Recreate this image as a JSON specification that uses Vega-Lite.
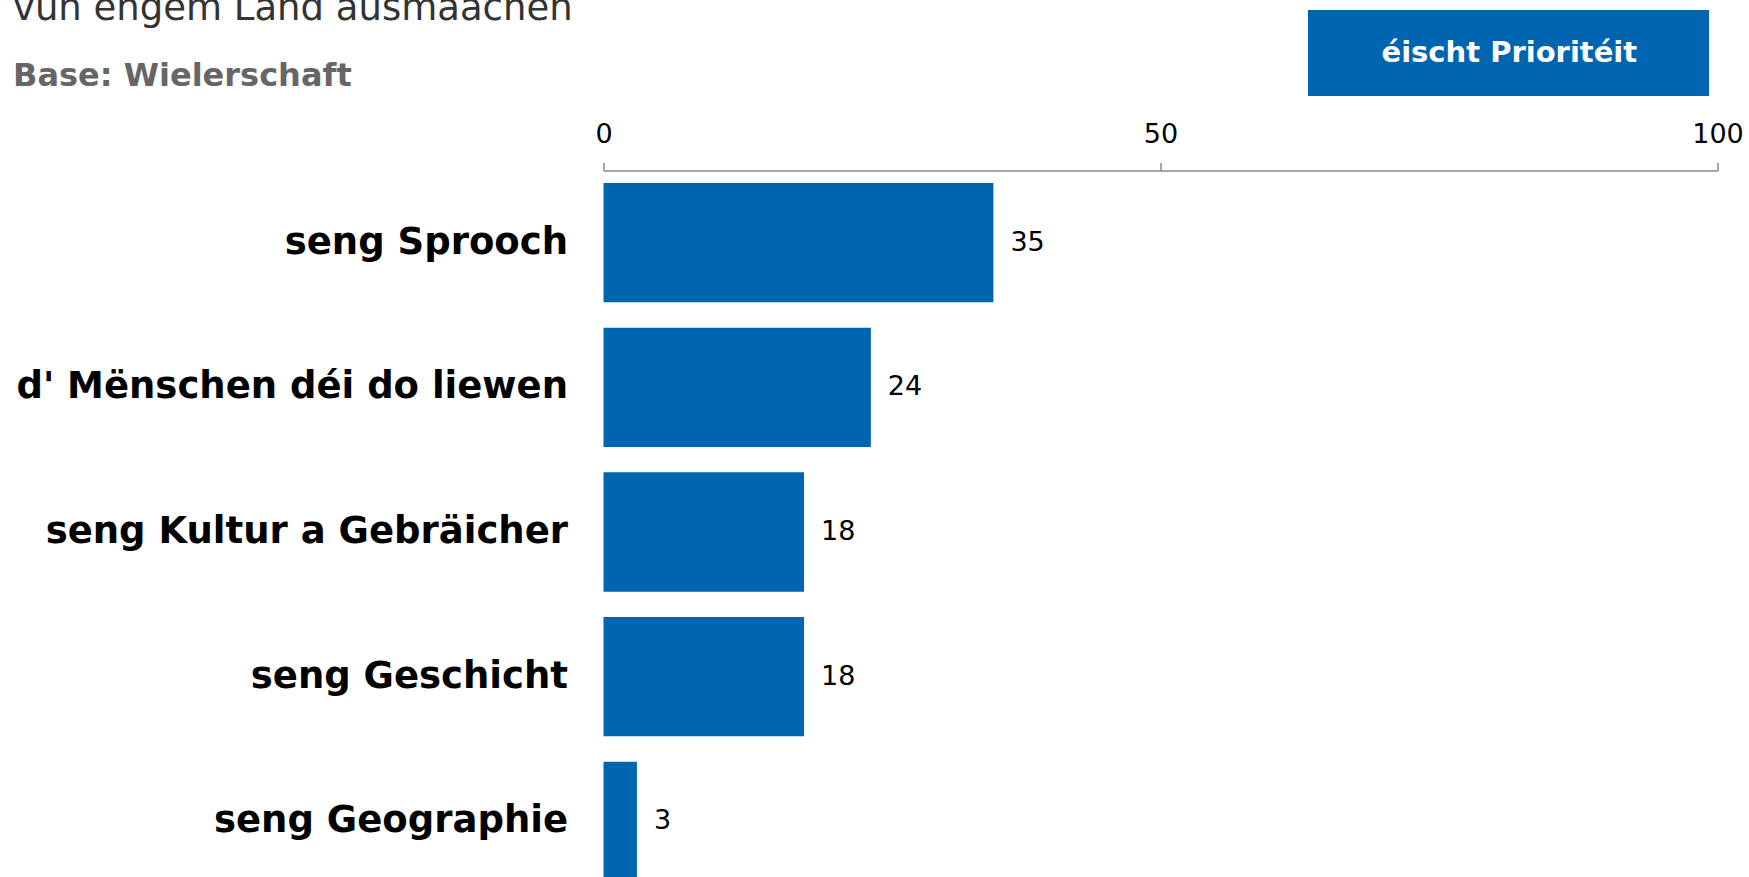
{
  "$schema": "https://vega.github.io/schema/vega-lite/v6.json",
  "width": 1114,
  "height": 723,
  "autosize": {"type": "none"},
  "padding": {"left": 603.5, "top": 170.5, "right": 31.5, "bottom": -16.5},
  "background": "white",
  "title": {
    "text": "vun engem Land ausmaachen",
    "subtitle": "Base: Wielerschaft",
    "anchor": "start",
    "frame": "group",
    "dx": -590.5,
    "dy": 250,
    "font": "DejaVu Sans",
    "fontSize": 37,
    "fontWeight": "normal",
    "color": "#333333",
    "subtitleFont": "DejaVu Sans",
    "subtitleFontSize": 32,
    "subtitleFontWeight": "bold",
    "subtitleColor": "#666666",
    "subtitlePadding": 33,
    "offset": 10
  },
  "config": {"view": {"stroke": null}},
  "data": {
    "values": [
      {"item": "seng Sprooch", "value": 35, "series": "éischt Prioritéit"},
      {"item": "d' Mënschen déi do liewen", "value": 24, "series": "éischt Prioritéit"},
      {"item": "seng Kultur a Gebräicher", "value": 18, "series": "éischt Prioritéit"},
      {"item": "seng Geschicht", "value": 18, "series": "éischt Prioritéit"},
      {"item": "seng Geographie", "value": 3, "series": "éischt Prioritéit"}
    ]
  },
  "layer": [
    {
      "mark": {"type": "bar"},
      "encoding": {
        "y": {
          "field": "item",
          "type": "nominal",
          "sort": null,
          "scale": {"paddingInner": 0.175, "paddingOuter": 0.086},
          "axis": {
            "title": null,
            "domain": false,
            "ticks": false,
            "labelFont": "DejaVu Sans",
            "labelFontSize": 37,
            "labelFontWeight": "bold",
            "labelColor": "#000000",
            "labelPadding": 36,
            "labelLimit": 0
          }
        },
        "x": {
          "field": "value",
          "type": "quantitative",
          "scale": {"domain": [0, 100]},
          "axis": {
            "orient": "top",
            "values": [0, 50, 100],
            "title": null,
            "grid": false,
            "domainColor": "#888888",
            "domainWidth": 1.5,
            "tickColor": "#888888",
            "tickWidth": 1.5,
            "tickSize": 8,
            "labelFont": "DejaVu Sans",
            "labelFontSize": 27,
            "labelColor": "#000000",
            "labelPadding": 14,
            "labelFlush": false
          }
        },
        "color": {
          "field": "series",
          "type": "nominal",
          "scale": {"range": ["#0065B1"]},
          "legend": {
            "orient": "none",
            "legendX": 704.5,
            "legendY": -318,
            "title": null,
            "padding": 0,
            "symbolType": "M-1,-0.2145H1V0.2145H-1Z",
            "symbolSize": 160801,
            "symbolStrokeWidth": 0,
            "symbolOpacity": 1,
            "labelFont": "DejaVu Sans",
            "labelFontSize": 29,
            "labelFontWeight": "bold",
            "labelColor": "#ffffff",
            "labelOffset": -327.5,
            "labelLimit": 0
          }
        }
      }
    },
    {
      "mark": {"type": "text", "align": "left", "baseline": "middle", "dx": 17, "font": "DejaVu Sans", "fontSize": 27, "color": "#000000"},
      "encoding": {
        "y": {"field": "item", "type": "nominal", "sort": null},
        "x": {"field": "value", "type": "quantitative"},
        "text": {"field": "value", "type": "quantitative"}
      }
    }
  ]
}
